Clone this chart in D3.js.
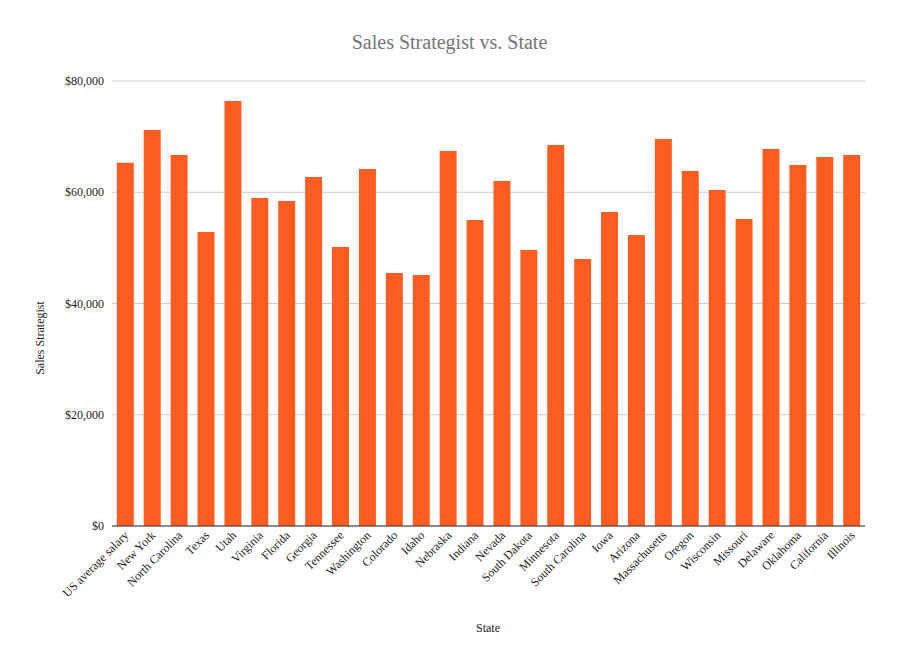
<!DOCTYPE html>
<html><head><meta charset="utf-8">
<script src="https://cdn.jsdelivr.net/npm/d3@7"></script>
<style>body{margin:0;background:#fff}text{font-family:"Liberation Serif","Times New Roman",serif}</style>
</head><body>
<svg id="c" width="899" height="668"></svg>
<script>
const states = ["US average salary","New York","North Carolina","Texas","Utah","Virginia","Florida","Georgia","Tennessee","Washington","Colorado","Idaho","Nebraska","Indiana","Nevada","South Dakota","Minnesota","South Carolina","Iowa","Arizona","Massachusetts","Oregon","Wisconsin","Missouri","Delaware","Oklahoma","California","Illinois"];
const salaries = [65300,71200,66700,52850,76400,58970,58430,62740,50160,64180,45480,45120,67420,55010,62020,49620,68490,48000,56450,52310,69570,63820,60400,55190,67780,64900,66340,66700];
const yTicks = [0,20000,40000,60000,80000];

const svg = d3.select("#c");
const m = {l:112, r:865, t:81, b:526};
const x = d3.scaleBand().domain(states).range([m.l, m.r]).paddingInner(0.37).paddingOuter(0.18);
const y = d3.scaleLinear().domain([0,80000]).range([m.b, m.t]);

svg.append("g").selectAll("line").data(yTicks).join("line")
  .attr("x1",m.l).attr("x2",m.r).attr("y1",d=>y(d)).attr("y2",d=>y(d))
  .attr("stroke","#cccccc").attr("stroke-width",1);
svg.append("g").selectAll("text").data(yTicks).join("text")
  .attr("x",m.l-8).attr("y",d=>y(d)+4).attr("text-anchor","end")
  .attr("font-size",12).attr("fill","#222").text(d=>d3.format("$,")(d));

svg.append("g").selectAll("rect").data(states).join("rect")
  .attr("x",d=>x(d)).attr("width",x.bandwidth())
  .attr("y",(d,i)=>y(salaries[i])).attr("height",(d,i)=>m.b-y(salaries[i]))
  .attr("fill","#ff5c22");

svg.append("line").attr("x1",m.l).attr("x2",m.r).attr("y1",m.b).attr("y2",m.b).attr("stroke","#333");

svg.append("g").selectAll("text").data(states).join("text")
  .attr("transform",d=>`translate(${x(d)+x.bandwidth()/2+4},${m.b+10}) rotate(-45)`)
  .attr("text-anchor","end").attr("font-size",12).attr("fill","#222").text(d=>d);

svg.append("text").attr("x",449.5).attr("y",49).attr("text-anchor","middle")
  .attr("font-size",20).attr("fill","#757575").text("Sales Strategist vs. State");
svg.append("text").attr("x",488).attr("y",632).attr("text-anchor","middle")
  .attr("font-size",12).attr("fill","#222").text("State");
svg.append("text").attr("transform","translate(44,338) rotate(-90)").attr("text-anchor","middle")
  .attr("font-size",12).attr("fill","#222").text("Sales Strategist");
</script>
</body></html>
